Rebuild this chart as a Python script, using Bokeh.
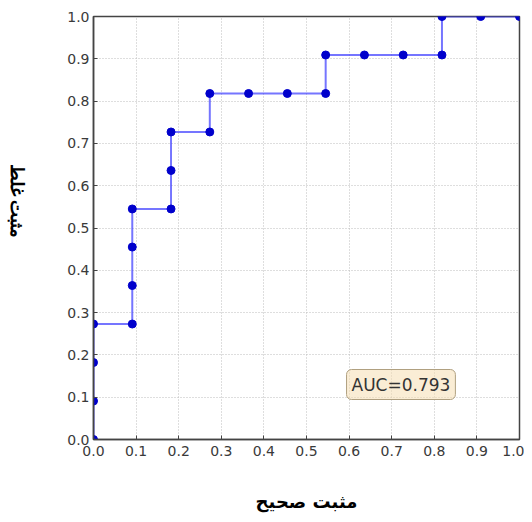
import math
from bokeh.plotting import figure
from bokeh.layouts import row
from bokeh.models import Range1d, FixedTicker, Label, PrintfTickFormatter
from bokeh.embed import file_html
from bokeh.resources import INLINE

# ROC curve points
fpr = [0.0, 0.0, 0.0, 0.0, 0.091, 0.091, 0.091, 0.091, 0.182, 0.182, 0.182,
       0.273, 0.273, 0.364, 0.455, 0.545, 0.545, 0.636, 0.727, 0.818, 0.818,
       0.909, 1.0]
tpr = [0.0, 0.091, 0.182, 0.273, 0.273, 0.364, 0.455, 0.545, 0.545, 0.636,
       0.727, 0.727, 0.818, 0.818, 0.818, 0.818, 0.909, 0.909, 0.909, 0.909,
       1.0, 1.0, 1.0]
ticks = [0.0, 0.1, 0.2, 0.3, 0.4, 0.5, 0.6, 0.7, 0.8, 0.9, 1.0]
auc_text = "AUC=0.793"
x_label = "مثبت صحیح"
y_label = "مثبت غلط"

H = 514
LW = 30

# narrow strip holding the vertical (clockwise) y-axis title
side = figure(width=LW, height=H, output_backend="svg", toolbar_location=None,
              x_range=Range1d(0, LW), y_range=Range1d(0, H),
              x_axis_type=None, y_axis_type=None, min_border=0)
side.grid.visible = False
side.outline_line_color = None
side.background_fill_color = "white"
side.border_fill_color = "white"
side.text(x=[16], y=[H - 224], text=[y_label], angle=-math.pi / 2,
          text_align="center", text_baseline="middle",
          text_font="DejaVu Sans", text_font_style="bold",
          text_font_size="18px", text_color="black")

p = figure(width=524 - LW, height=H, output_backend="svg", toolbar_location=None,
           x_range=Range1d(0, 1), y_range=Range1d(0, 1),
           min_border_left=93 - LW, min_border_right=5, min_border_top=16,
           min_border_bottom=70)
p.background_fill_color = "white"
p.border_fill_color = "white"
p.outline_line_color = "#444444"
p.outline_line_width = 1.5

for ax in (p.xaxis, p.yaxis):
    ax.ticker = FixedTicker(ticks=ticks)
    ax.formatter = PrintfTickFormatter(format="%.1f")
    ax.major_tick_in = 4
    ax.major_tick_out = 0
    ax.minor_tick_line_color = None
    ax.major_tick_line_color = "#444444"
    ax.axis_line_color = "#444444"
    ax.axis_line_width = 1.5
    ax.major_label_text_font = "DejaVu Sans"
    ax.major_label_text_font_size = "14px"
    ax.major_label_text_color = "#3a3a3a"

p.xaxis.major_label_standoff = 6
p.yaxis.major_label_standoff = 4

p.xaxis.axis_label = x_label
p.xaxis.axis_label_text_font = "DejaVu Sans"
p.xaxis.axis_label_text_font_style = "bold"
p.xaxis.axis_label_text_font_size = "18px"
p.xaxis.axis_label_text_color = "black"
p.xaxis.axis_label_standoff = 32

p.grid.ticker = FixedTicker(ticks=ticks)
p.grid.grid_line_color = "#bdbdbd"
p.grid.grid_line_dash = "1 2"
p.grid.grid_line_width = 1

p.line(fpr, tpr, line_color="#3a3aff", line_alpha=0.7, line_width=2)
p.scatter(fpr, tpr, size=8, fill_color="#0000cc", line_color="#0000cc")

lbl = Label(x=0.594, y=0.13, text=auc_text, text_baseline="middle",
            text_align="left", text_font="DejaVu Sans", text_font_size="17px",
            text_color="#333333", background_fill_color="#f5deb3",
            background_fill_alpha=0.55, border_line_color="#b0a080",
            border_line_width=1, padding=5, border_radius=5)
p.add_layout(lbl)

layout = row(side, p, spacing=0)
open("out.html", "w").write(file_html(layout, INLINE))
